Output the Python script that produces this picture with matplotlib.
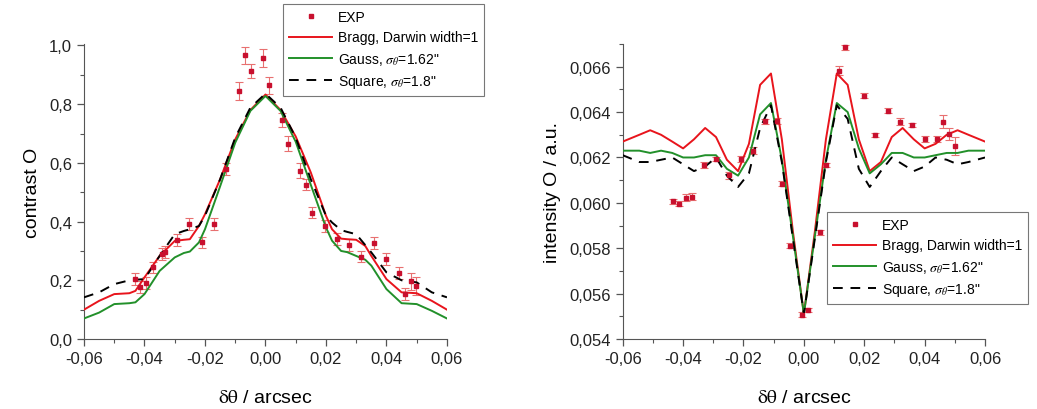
import numpy as np
import matplotlib
matplotlib.use("Agg")
import matplotlib.pyplot as plt
from matplotlib.ticker import MultipleLocator, FuncFormatter

plt.rcParams['font.family'] = ['Liberation Sans', 'DejaVu Sans']
plt.rcParams['mathtext.fontset'] = 'stix'

# ---- left panel: contrast ----
exp_x_c = [-0.0431, -0.0415, -0.0395, -0.0371, -0.0343, -0.0332, -0.0294, -0.0252, -0.0211,
           -0.0171, -0.0129, -0.0089, -0.0068, -0.0049, -0.0008, 0.0012, 0.0053, 0.0073,
           0.0113, 0.0134, 0.0154, 0.0196, 0.0236, 0.0276, 0.0317, 0.0358, 0.0399, 0.0440,
           0.0460, 0.0480, 0.0499]
exp_y_c = [0.204, 0.176, 0.190, 0.244, 0.289, 0.297, 0.337, 0.393, 0.329,
           0.391, 0.578, 0.845, 0.966, 0.913, 0.957, 0.864, 0.746, 0.666,
           0.573, 0.526, 0.431, 0.385, 0.340, 0.320, 0.281, 0.327, 0.272, 0.224,
           0.153, 0.196, 0.180]
exp_err_c = [0.02, 0.02, 0.02, 0.02, 0.02, 0.02, 0.02, 0.02, 0.02,
             0.02, 0.02, 0.03, 0.03, 0.025, 0.03, 0.03, 0.025, 0.025,
             0.025, 0.02, 0.02, 0.02, 0.02, 0.02, 0.02, 0.02, 0.02, 0.02,
             0.02, 0.03, 0.03]

mod_x_c = [-0.06, -0.055, -0.05, -0.045, -0.043, -0.04, -0.035, -0.03, -0.027, -0.025,
           -0.022, -0.02, -0.015, -0.01, -0.005, 0.0, 0.005, 0.01, 0.015, 0.02, 0.022,
           0.025, 0.027, 0.03, 0.033, 0.035, 0.04, 0.045, 0.05, 0.055, 0.06]
bragg_c = [0.100, 0.130, 0.153, 0.156, 0.164, 0.210, 0.283, 0.334, 0.338, 0.340,
           0.385, 0.425, 0.544, 0.680, 0.780, 0.833, 0.780, 0.690, 0.567, 0.420, 0.374,
           0.342, 0.340, 0.338, 0.317, 0.283, 0.204, 0.159, 0.156, 0.130, 0.100]
gauss_c = [0.070, 0.090, 0.119, 0.122, 0.125, 0.153, 0.232, 0.278, 0.293, 0.298,
           0.329, 0.374, 0.520, 0.669, 0.777, 0.828, 0.777, 0.672, 0.525, 0.380, 0.335,
           0.300, 0.296, 0.283, 0.270, 0.250, 0.170, 0.122, 0.119, 0.096, 0.070]
square_c = [0.142, 0.159, 0.187, 0.200, 0.202, 0.204, 0.283, 0.357, 0.368, 0.374,
            0.385, 0.420, 0.544, 0.686, 0.788, 0.836, 0.788, 0.686, 0.544, 0.420, 0.397,
            0.371, 0.365, 0.357, 0.320, 0.295, 0.227, 0.200, 0.193, 0.159, 0.142]

# ---- right panel: intensity ----
exp_x_i = [-0.0432, -0.0412, -0.0391, -0.0372, -0.0330, -0.0292, -0.0248, -0.0208, -0.0170,
           -0.0129, -0.0088, -0.0071, -0.0047, -0.0006, 0.0013, 0.0052, 0.0073, 0.0116,
           0.0136, 0.0198, 0.0237, 0.0278, 0.0319, 0.0359, 0.0400, 0.0440, 0.0460, 0.0482,
           0.0501]
exp_y_i = [0.06007, 0.05996, 0.06022, 0.06027, 0.06167, 0.06193, 0.06121, 0.06193, 0.06230,
           0.06359, 0.06360, 0.06085, 0.05811, 0.05508, 0.05527, 0.05870, 0.06166, 0.06582,
           0.06685, 0.06472, 0.06299, 0.06406, 0.06358, 0.06343, 0.06281, 0.06281, 0.06358,
           0.06303, 0.06252]
exp_err_i = [0.00012, 0.00012, 0.00015, 0.00015, 0.00012, 0.0001, 0.00015, 0.00015, 0.00015,
             0.00012, 0.00012, 0.0001, 0.0001, 0.0001, 0.0001, 0.0001, 0.0001, 0.0002,
             0.00012, 0.0001, 0.0001, 0.0001, 0.00015, 0.0001, 0.00012, 0.00012, 0.0003,
             0.00025, 0.0004]

mod_x_i = [-0.06, -0.0545, -0.0509, -0.0473, -0.0436, -0.04, -0.0364, -0.0327, -0.0291,
           -0.0255, -0.0218, -0.0182, -0.0145, -0.0109, -0.0073, -0.0036, 0.0, 0.0036,
           0.0073, 0.0109, 0.0145, 0.0182, 0.0218, 0.0255, 0.0291, 0.0327, 0.0364, 0.04,
           0.0436, 0.0473, 0.0509, 0.0545, 0.06]
bragg_i = [0.0627, 0.0630, 0.0632, 0.0630, 0.0627, 0.0624, 0.0628, 0.0633, 0.0629,
           0.0619, 0.0614, 0.0626, 0.0652, 0.0657, 0.0628, 0.0587, 0.0551, 0.0587,
           0.0628, 0.0657, 0.0652, 0.0628, 0.0614, 0.0618, 0.0629, 0.0633, 0.0628, 0.0624,
           0.0626, 0.0630, 0.0632, 0.0630, 0.0627]
gauss_i = [0.0623, 0.0623, 0.0622, 0.0623, 0.0622, 0.0620, 0.0620, 0.0621, 0.0621,
           0.0615, 0.0612, 0.0620, 0.0639, 0.0644, 0.0619, 0.0585, 0.0551, 0.0585,
           0.0619, 0.0644, 0.0640, 0.0624, 0.0613, 0.0617, 0.0622, 0.0622, 0.0620, 0.0620,
           0.0621, 0.0622, 0.0622, 0.0623, 0.0623]
square_i = [0.0621, 0.0618, 0.0618, 0.0619, 0.0620, 0.0617, 0.0614, 0.0616, 0.0620,
            0.0612, 0.0607, 0.0613, 0.0633, 0.0643, 0.0618, 0.0584, 0.0551, 0.0584,
            0.0618, 0.0643, 0.0637, 0.0615, 0.0607, 0.0614, 0.0620, 0.0617, 0.0614, 0.0616,
            0.0620, 0.0619, 0.0617, 0.0618, 0.0620]

RED = '#e8141c'
GREEN = '#22902a'
PTS = '#c8102e'
ERR = '#e87070'


def comma(fmt):
    return FuncFormatter(lambda v, p: (fmt % v).replace('.', ','))


def style_axis(ax):
    ax.spines['top'].set_visible(False)
    ax.spines['right'].set_visible(False)
    ax.spines['left'].set_color('#555555')
    ax.spines['bottom'].set_color('#555555')
    ax.tick_params(which='major', direction='out', length=5, width=0.9,
                   colors='#555555', labelcolor='#222222', labelsize=12)
    ax.tick_params(which='minor', direction='out', length=3, width=0.8, colors='#555555')
    ax.set_xlim(-0.06, 0.06)
    ax.xaxis.set_major_locator(MultipleLocator(0.02))
    ax.xaxis.set_minor_locator(MultipleLocator(0.01))
    ax.xaxis.set_major_formatter(comma('%.2f'))
    ax.set_xlabel(r'$\mathrm{\delta\theta}$ / arcsec', fontsize=14, labelpad=17)


def draw(ax, ex, ey, ee, mx, b, g, s):
    ax.errorbar(ex, ey, yerr=ee, fmt='none', ecolor=ERR, elinewidth=0.8,
                capsize=3, capthick=0.8, zorder=2)
    ax.plot(mx, b, color=RED, lw=1.4, label='Bragg, Darwin width=1', zorder=3)
    ax.plot(mx, g, color=GREEN, lw=1.4, label=r'Gauss, $\sigma_\theta$=1.62"', zorder=3)
    ax.plot(mx, s, color='black', lw=1.4, ls=(0, (5, 4)),
            label=r'Square, $\sigma_\theta$=1.8"', zorder=4)
    ax.plot(ex, ey, 's', color=PTS, ms=2.8, ls='none', label='EXP', zorder=5)


fig = plt.figure(figsize=(10.37, 4.10), dpi=100)
ax1 = fig.add_axes([0.081, 0.1707, 0.350, 0.7195])
ax2 = fig.add_axes([0.6005, 0.1707, 0.3494, 0.7195])

draw(ax1, exp_x_c, exp_y_c, exp_err_c, mod_x_c, bragg_c, gauss_c, square_c)
style_axis(ax1)
ax1.set_ylim(0, 1.005)
ax1.yaxis.set_major_locator(MultipleLocator(0.2))
ax1.yaxis.set_minor_locator(MultipleLocator(0.1))
ax1.yaxis.set_major_formatter(comma('%.1f'))
ax1.set_ylabel('contrast O', fontsize=14, labelpad=6)

draw(ax2, exp_x_i, exp_y_i, exp_err_i, mod_x_i, bragg_i, gauss_i, square_i)
style_axis(ax2)
ax2.set_ylim(0.054, 0.067)
ax2.yaxis.set_major_locator(MultipleLocator(0.002))
ax2.yaxis.set_minor_locator(MultipleLocator(0.001))
ax2.yaxis.set_major_formatter(comma('%.3f'))
ax2.set_ylabel('intensity O / a.u.', fontsize=14, labelpad=6)

order = [3, 0, 1, 2]
for ax, anchor in [(ax1, (0.273, 0.988)), (ax2, (0.7975, 0.4805))]:
    h, l = ax.get_legend_handles_labels()
    leg = ax.legend([h[i] for i in order], [l[i] for i in order], loc='upper left',
                    bbox_to_anchor=anchor, bbox_transform=fig.transFigure,
                    borderaxespad=0, fontsize=10, handlelength=3.1, handletextpad=0.4,
                    labelspacing=0.45, borderpad=0.45, fancybox=False, framealpha=1,
                    edgecolor='#777777')
    leg.get_frame().set_linewidth(0.8)

fig.savefig('out.png', dpi=100)
